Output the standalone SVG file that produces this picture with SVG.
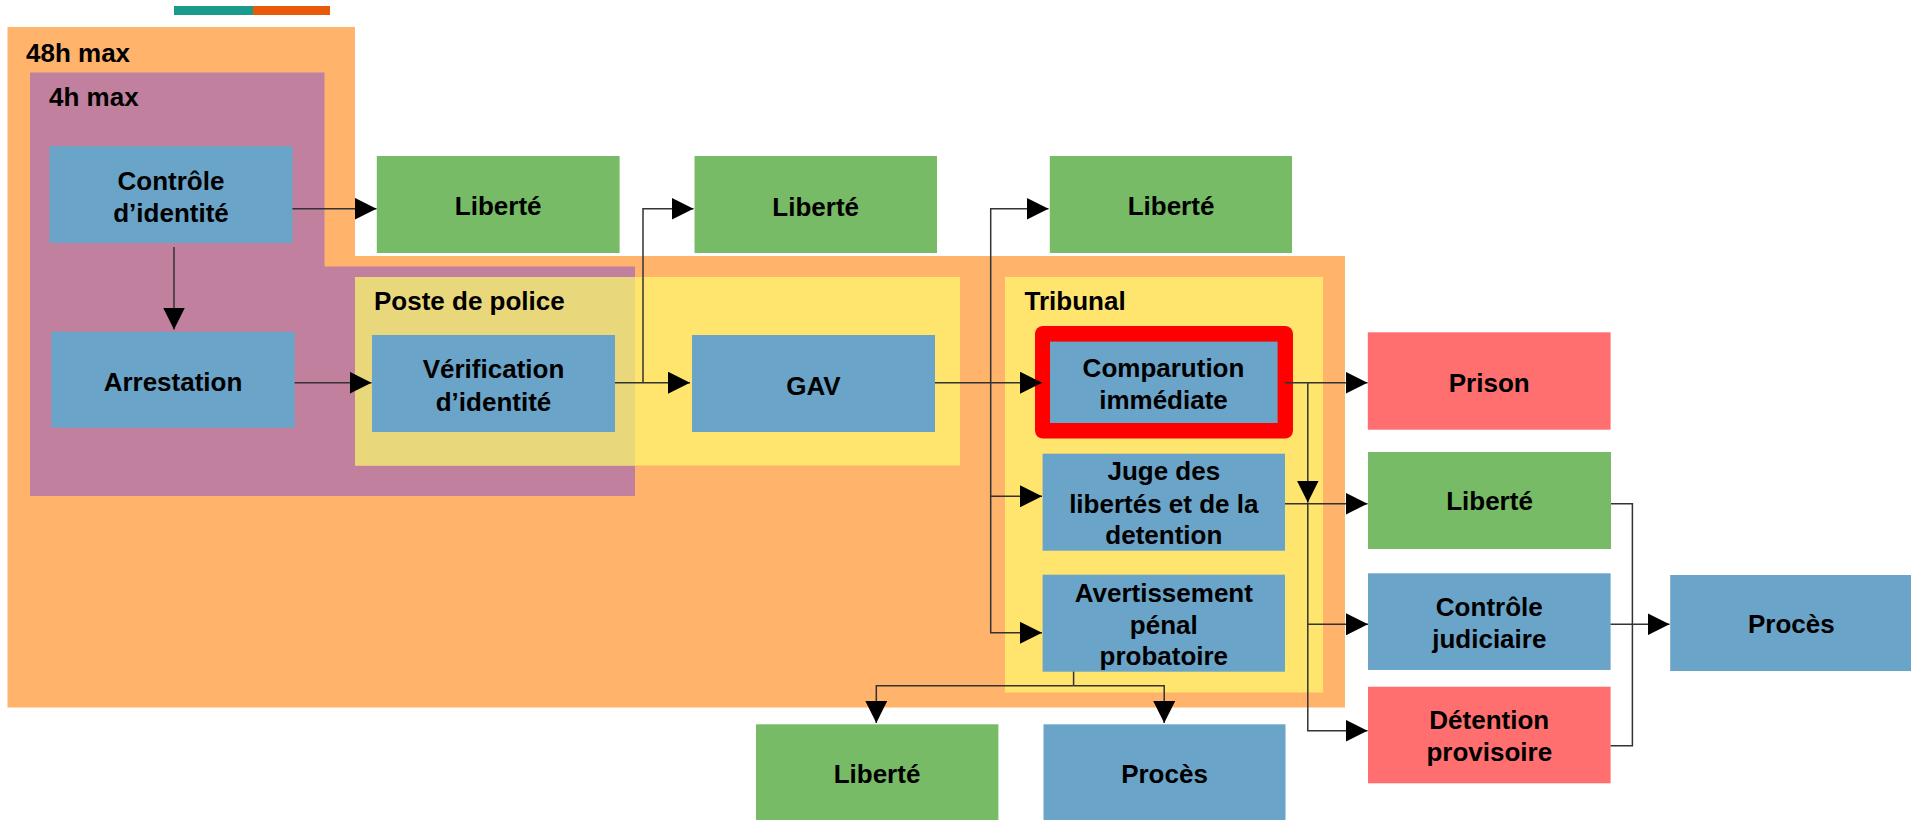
<svg xmlns="http://www.w3.org/2000/svg" width="1911" height="820" viewBox="0 0 1911 820">
<style>
text{font-family:"Liberation Sans",Arial,sans-serif;font-weight:bold;font-size:26px;fill:#000}
.c{text-anchor:middle}
.blue{fill:#6aa4c8}
.green{fill:#77bb66}
.red{fill:#ff6f6f}
.ln{fill:none;stroke:#333;stroke-width:1.5}
</style>
<defs>
<marker id="ah" markerUnits="userSpaceOnUse" markerWidth="22" markerHeight="22" refX="22" refY="11" orient="auto">
<path d="M0,0 L22,11 L0,22 z" fill="#000"/>
</marker>
</defs>
<rect x="174" y="6" width="79" height="9" fill="#1a9a8a"/>
<rect x="253" y="6" width="77" height="9" fill="#e85a0a"/>
<g id="zone48h">
<path d="M7.5,27 H355 V256 H1345 V707.5 H7.5 Z" fill="#ffb36b"/>
<text x="26" y="62">48h max</text>
</g>
<g id="zone4h">
<path d="M30,72.5 H324.5 V266.5 H635 V496 H30 Z" fill="#c0809e"/>
<text x="49" y="106">4h max</text>
</g>
<g id="poste">
<rect x="355" y="277" width="605" height="188.5" fill="#ffe46e"/>
<rect x="355" y="277" width="280" height="188.5" fill="#e9d77b"/>
<text x="374" y="310">Poste de police</text>
</g>
<g id="tribunal">
<rect x="1005" y="277" width="318" height="415.5" fill="#ffe46e"/>
<text x="1024.5" y="310">Tribunal</text>
</g>
<g id="controle">
<rect class="blue" x="49.5" y="146" width="243" height="97"/>
<text class="c" x="171" y="190">Contrôle</text>
<text class="c" x="171" y="221.7">d’identité</text>
</g>
<g id="arrestation">
<rect class="blue" x="51.3" y="331.7" width="243.3" height="96"/>
<text class="c" x="173" y="390.7">Arrestation</text>
</g>
<g id="liberte1">
<rect class="green" x="376.8" y="156" width="242.8" height="97"/>
<text class="c" x="498.2" y="215">Liberté</text>
</g>
<g id="verification">
<rect class="blue" x="372" y="335" width="243" height="97"/>
<text class="c" x="493.5" y="378.3">Vérification</text>
<text class="c" x="493.5" y="410.7">d’identité</text>
</g>
<g id="liberte2">
<rect class="green" x="694.5" y="156" width="242.5" height="97"/>
<text class="c" x="815.7" y="215.5">Liberté</text>
</g>
<g id="gav">
<rect class="blue" x="692" y="335" width="243" height="97"/>
<text class="c" x="813.5" y="395.3">GAV</text>
</g>
<g id="liberte3">
<rect class="green" x="1049.8" y="156" width="242.2" height="97"/>
<text class="c" x="1171" y="215.3">Liberté</text>
</g>
<g id="comparution">
<rect x="1035" y="326" width="258" height="112.6" rx="8" fill="#ff0000"/>
<rect class="blue" x="1050" y="341.6" width="227.6" height="81.4"/>
<text class="c" x="1163.5" y="376.8">Comparution</text>
<text class="c" x="1163.5" y="409">immédiate</text>
</g>
<g id="juge">
<rect class="blue" x="1042.6" y="453.7" width="242.4" height="97"/>
<text class="c" x="1163.8" y="480.4">Juge des</text>
<text class="c" x="1163.8" y="512.5">libertés et de la</text>
<text class="c" x="1163.8" y="544.4">detention</text>
</g>
<g id="avertissement">
<rect class="blue" x="1042.6" y="574.7" width="242.4" height="97"/>
<text class="c" x="1163.8" y="601.7">Avertissement</text>
<text class="c" x="1163.8" y="633.9">pénal</text>
<text class="c" x="1163.8" y="665.3">probatoire</text>
</g>
<g id="prison">
<rect class="red" x="1367.8" y="332.3" width="242.8" height="97.4"/>
<text class="c" x="1489.2" y="391.7">Prison</text>
</g>
<g id="liberte4">
<rect class="green" x="1368" y="452" width="243" height="97"/>
<text class="c" x="1489.5" y="510">Liberté</text>
</g>
<g id="controleJudiciaire">
<rect class="blue" x="1368" y="573.3" width="242.6" height="96.7"/>
<text class="c" x="1489.3" y="615.7">Contrôle</text>
<text class="c" x="1489.3" y="648.3">judiciaire</text>
</g>
<g id="detention">
<rect class="red" x="1368" y="686.7" width="242.6" height="96.6"/>
<text class="c" x="1489.3" y="729">Détention</text>
<text class="c" x="1489.3" y="761">provisoire</text>
</g>
<g id="proces1">
<rect class="blue" x="1670.2" y="575" width="250" height="96"/>
<text class="c" x="1791.4" y="632.7">Procès</text>
</g>
<g id="liberte5">
<rect class="green" x="756" y="724.3" width="242.4" height="100"/>
<text class="c" x="877" y="782.7">Liberté</text>
</g>
<g id="proces2">
<rect class="blue" x="1043.5" y="724.3" width="242" height="100"/>
<text class="c" x="1164.5" y="782.7">Procès</text>
</g>
<g id="connectors">
<path class="ln" d="M292.4,208.7 H376.5" marker-end="url(#ah)"/>
<path class="ln" d="M174,247 V329.5" marker-end="url(#ah)"/>
<path class="ln" d="M294.6,382.7 H371.5" marker-end="url(#ah)"/>
<path class="ln" d="M615,382.7 H690" marker-end="url(#ah)"/>
<path class="ln" d="M643,382.7 V208.8 H693.5" marker-end="url(#ah)"/>
<path class="ln" d="M935,382.7 H1042" marker-end="url(#ah)"/>
<path class="ln" d="M990.7,382.7 V208.8 H1048.5" marker-end="url(#ah)"/>
<path class="ln" d="M990.7,382.7 V496.3 H1042" marker-end="url(#ah)"/>
<path class="ln" d="M990.7,496.3 V632.8 H1042" marker-end="url(#ah)"/>
<path class="ln" d="M1285,382.7 H1367.5" marker-end="url(#ah)"/>
<path class="ln" d="M1307.8,382.7 V502.5" marker-end="url(#ah)"/>
<path class="ln" d="M1285,503.7 H1367.5" marker-end="url(#ah)"/>
<path class="ln" d="M1307.8,502.5 V624.3 H1368" marker-end="url(#ah)"/>
<path class="ln" d="M1307.8,624.3 V730.7 H1367.5" marker-end="url(#ah)"/>
<path class="ln" d="M1611,503.7 H1632.4 V745.7 H1610.6"/>
<path class="ln" d="M1610.6,624.3 H1669.5" marker-end="url(#ah)"/>
<path class="ln" d="M1073.6,671.6 V685.7"/>
<path class="ln" d="M1073.6,685.7 H876.3 V723" marker-end="url(#ah)"/>
<path class="ln" d="M1073.6,685.7 H1164.2 V723" marker-end="url(#ah)"/>
</g>
</svg>
